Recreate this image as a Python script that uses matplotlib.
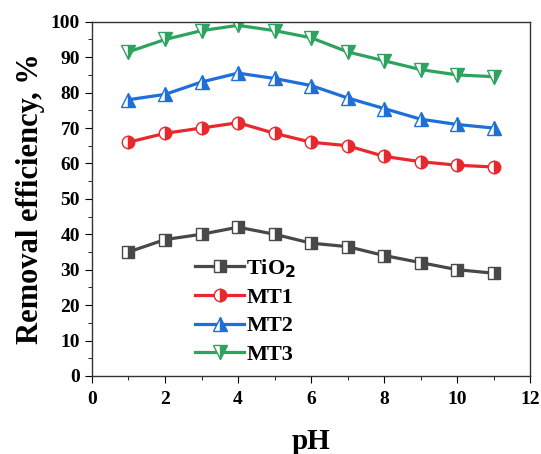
import matplotlib.pyplot as plt

plt.rcParams['font.family'] = ['Liberation Serif', 'DejaVu Serif']
plt.rcParams['font.weight'] = 'bold'

ph = [1, 2, 3, 4, 5, 6, 7, 8, 9, 10, 11]
tio2 = [35, 38.5, 40, 42, 40, 37.5, 36.5, 34, 32, 30, 29]
mt1 = [66, 68.5, 70, 71.5, 68.5, 66, 65, 62, 60.5, 59.5, 59]
mt2 = [78, 79.5, 83, 85.5, 84, 82, 78.5, 75.5, 72.5, 71, 70]
mt3 = [91.5, 95, 97.5, 99, 97.5, 95.5, 91.5, 89, 86.5, 85, 84.5]

labels = ['TiO$_2$', 'MT1', 'MT2', 'MT3']
colors = ['#484848', '#e8282c', '#1e6fd9', '#2ea360']
markers = ['s', 'o', '^', 'v']
sizes = [8, 9, 10, 10]

fig = plt.figure(figsize=(5.41, 4.54), dpi=100)
ax = fig.add_axes([0.170, 0.172, 0.810, 0.780])

for y, lab, c, m, s in zip([tio2, mt1, mt2, mt3], labels, colors, markers, sizes):
    ax.plot(ph, y, color=c, lw=2.3, marker=m, ms=s, fillstyle='right',
            markerfacecolor=c, markerfacecoloralt='white', markeredgecolor=c,
            markeredgewidth=1.0, label=lab)

ax.set_xlim(0, 12)
ax.set_ylim(0, 100)
ax.set_xticks(range(0, 13, 2))
ax.set_xticks(range(0, 13, 1), minor=True)
ax.set_yticks(range(0, 101, 10))
ax.set_yticks(range(0, 101, 5), minor=True)
ax.tick_params(which='both', direction='out', top=False, right=False, labelsize=14)
ax.tick_params(axis='x', which='major', pad=6)
ax.tick_params(which='major', length=5)
ax.tick_params(which='minor', length=3)
for sp in ax.spines.values():
    sp.set_color('#333333')
    sp.set_linewidth(1.0)

ax.set_xlabel('pH', fontsize=21, fontweight='bold', labelpad=14)
ax.set_ylabel('Removal efficiency, %', fontsize=22, fontweight='bold', labelpad=4)

ax.legend(loc='lower left', bbox_to_anchor=(0.19, -0.025), frameon=False,
          fontsize=16, handlelength=2.2, labelspacing=0.35, handletextpad=0.1)

fig.savefig('out.png', dpi=100)
